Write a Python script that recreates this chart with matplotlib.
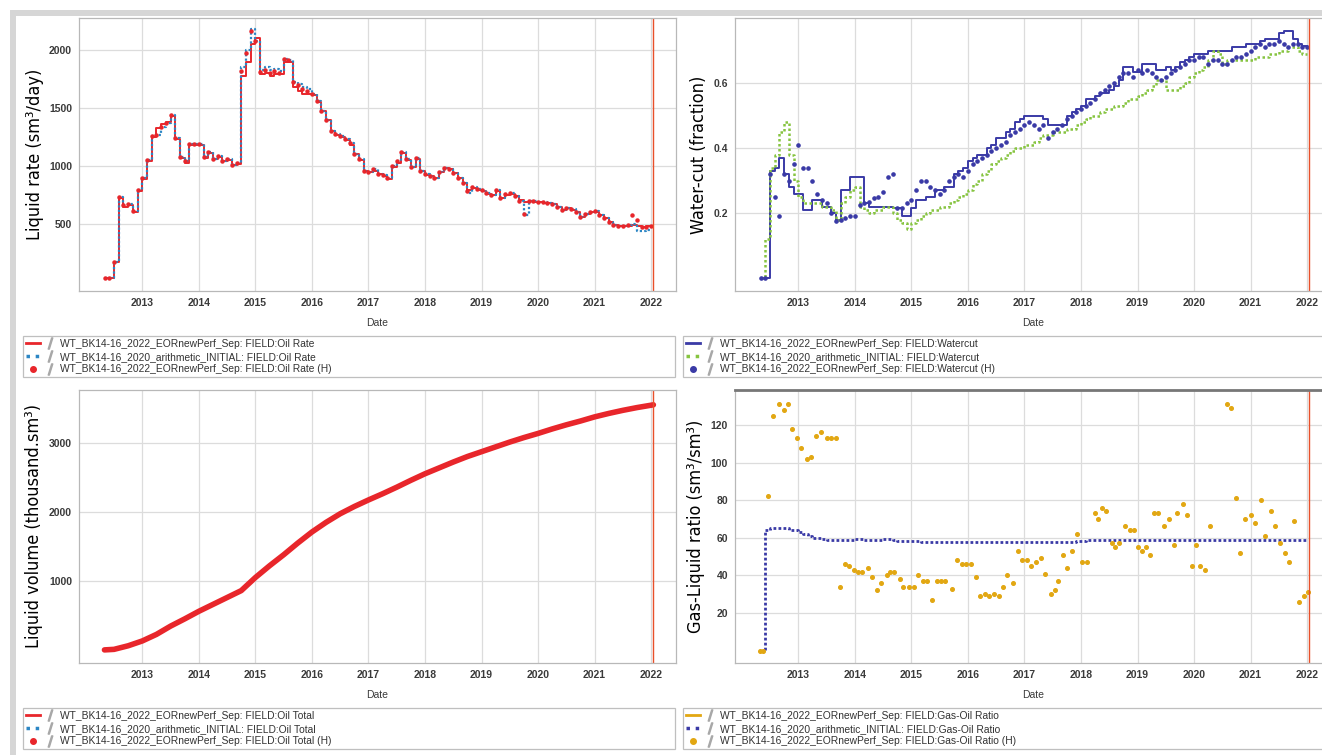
import numpy as np
import matplotlib
matplotlib.use("Agg")
import matplotlib.pyplot as plt
from matplotlib.lines import Line2D
from matplotlib.legend_handler import HandlerTuple
from matplotlib.patches import Rectangle

# ---- data (monthly, May 2012 .. Jan 2022) ----
START = 2012 + 4 / 12.0

oil_rate_hist = [
    35, 35, 170, 730, 660, 670, 610, 790,
    900, 1050, 1260, 1270, 1340, 1370, 1440, 1240, 1080, 1040, 1190, 1190,
    1190, 1080, 1120, 1060, 1090, 1040, 1060, 1010, 1030, 1820, 1970, 2160,
    2080, 1810, 1830, 1800, 1820, 1800, 1920, 1910, 1720, 1700, 1660, 1650,
    1620, 1560, 1470, 1400, 1300, 1280, 1260, 1230, 1200, 1100, 1060, 960,
    950, 970, 930, 920, 900, 1000, 1040, 1120, 1060, 990, 1070, 960,
    930, 910, 900, 950, 980, 970, 940, 900, 850, 780, 820, 800,
    790, 770, 750, 790, 720, 760, 770, 740, 700, 590, 700, 700,
    690, 690, 680, 670, 650, 620, 640, 630, 600, 560, 590, 600,
    610, 580, 550, 520, 490, 480, 480, 490, 580, 530, 470, 470,
    480,
]
oil_rate_sim22 = [
    35, 35, 170, 720, 650, 660, 600, 780,
    890, 1040, 1250, 1330, 1360, 1380, 1430, 1230, 1070, 1030, 1180, 1180,
    1180, 1070, 1110, 1060, 1080, 1040, 1050, 1010, 1020, 1780, 1900, 2050,
    2100, 1790, 1800, 1780, 1790, 1790, 1900, 1900, 1680, 1650, 1620, 1620,
    1610, 1550, 1470, 1400, 1300, 1270, 1250, 1220, 1180, 1100, 1050, 960,
    950, 960, 930, 910, 890, 990, 1030, 1110, 1050, 990, 1060, 960,
    920, 910, 900, 950, 980, 970, 940, 900, 850, 790, 810, 790,
    780, 760, 750, 780, 720, 750, 760, 740, 710, 690, 700, 690,
    690, 680, 680, 670, 650, 620, 640, 620, 600, 560, 590, 600,
    600, 580, 550, 520, 490, 480, 480, 480, 490, 480, 470, 480,
    480,
]
oil_rate_sim20 = [
    35, 35, 170, 730, 660, 670, 610, 790,
    900, 1050, 1260, 1270, 1340, 1370, 1440, 1240, 1080, 1040, 1190, 1190,
    1190, 1080, 1120, 1060, 1090, 1040, 1060, 1010, 1030, 1850, 2000, 2180,
    2080, 1830, 1850, 1830, 1840, 1820, 1920, 1910, 1720, 1710, 1680, 1660,
    1620, 1560, 1470, 1400, 1300, 1280, 1260, 1230, 1200, 1100, 1060, 960,
    950, 970, 930, 920, 900, 1000, 1040, 1120, 1060, 990, 1070, 960,
    930, 910, 900, 950, 980, 970, 940, 900, 850, 770, 820, 800,
    790, 770, 750, 790, 720, 760, 770, 740, 700, 580, 700, 700,
    690, 690, 680, 670, 650, 620, 640, 630, 600, 560, 590, 600,
    610, 580, 550, 520, 490, 480, 480, 490, 500, 440, 440, 450,
    460,
]

wcut_sim22 = [
    0.0, 0.0, 0.33, 0.34, 0.37, 0.32, 0.28, 0.26,
    0.26, 0.21, 0.21, 0.24, 0.24, 0.22, 0.22, 0.20, 0.18, 0.27, 0.27, 0.31,
    0.31, 0.31, 0.23, 0.22, 0.22, 0.22, 0.22, 0.22, 0.215, 0.215, 0.19, 0.19,
    0.215, 0.24, 0.24, 0.25, 0.25, 0.27, 0.27, 0.28, 0.28, 0.32, 0.33, 0.34,
    0.36, 0.37, 0.38, 0.38, 0.40, 0.41, 0.43, 0.43, 0.45, 0.46, 0.48, 0.49,
    0.50, 0.50, 0.50, 0.50, 0.49, 0.47, 0.47, 0.47, 0.47, 0.50, 0.51, 0.52,
    0.53, 0.55, 0.55, 0.56, 0.57, 0.57, 0.58, 0.59, 0.61, 0.65, 0.65, 0.635,
    0.635, 0.66, 0.66, 0.66, 0.64, 0.64, 0.65, 0.64, 0.65, 0.665, 0.67, 0.68,
    0.69, 0.69, 0.69, 0.70, 0.70, 0.70, 0.70, 0.70, 0.71, 0.71, 0.71, 0.72,
    0.72, 0.72, 0.73, 0.735, 0.735, 0.735, 0.755, 0.76, 0.76, 0.735, 0.72, 0.715,
    0.715,
]
wcut_sim20 = [
    0.0, 0.12, 0.34, 0.38, 0.45, 0.48, 0.38, 0.30,
    0.25, 0.23, 0.23, 0.23, 0.23, 0.22, 0.22, 0.21, 0.18, 0.23, 0.25, 0.27,
    0.28, 0.22, 0.21, 0.20, 0.21, 0.21, 0.22, 0.22, 0.20, 0.18, 0.17, 0.15,
    0.17, 0.18, 0.19, 0.20, 0.21, 0.21, 0.22, 0.22, 0.23, 0.24, 0.25, 0.26,
    0.27, 0.29, 0.30, 0.32, 0.33, 0.35, 0.36, 0.37, 0.38, 0.39, 0.40, 0.40,
    0.41, 0.41, 0.42, 0.43, 0.44, 0.44, 0.45, 0.45, 0.45, 0.46, 0.46, 0.47,
    0.48, 0.49, 0.50, 0.50, 0.51, 0.52, 0.52, 0.53, 0.53, 0.54, 0.55, 0.55,
    0.56, 0.57, 0.58, 0.59, 0.61, 0.61, 0.58, 0.58, 0.58, 0.59, 0.60, 0.62,
    0.63, 0.64, 0.65, 0.67, 0.70, 0.69, 0.66, 0.67, 0.67, 0.67, 0.67, 0.67,
    0.67, 0.68, 0.68, 0.68, 0.69, 0.69, 0.70, 0.70, 0.71, 0.71, 0.70, 0.69,
    0.69,
]
wcut_hist = [
    0.0, 0.0, 0.32, 0.25, 0.19, 0.32, 0.30, 0.35,
    0.41, 0.34, 0.34, 0.30, 0.26, 0.24, 0.23, 0.20, 0.175, 0.18, 0.185, 0.19,
    0.19, 0.225, 0.23, 0.235, 0.245, 0.25, 0.265, 0.31, 0.32, 0.215, 0.215, 0.23,
    0.24, 0.27, 0.30, 0.30, 0.28, 0.27, 0.26, 0.27, 0.30, 0.31, 0.32, 0.31,
    0.33, 0.35, 0.36, 0.37, 0.38, 0.39, 0.40, 0.41, 0.42, 0.44, 0.45, 0.46,
    0.47, 0.48, 0.47, 0.46, 0.47, 0.43, 0.45, 0.46, 0.47, 0.49, 0.50, 0.51,
    0.52, 0.53, 0.54, 0.55, 0.57, 0.58, 0.59, 0.60, 0.62, 0.63, 0.63, 0.62,
    0.64, 0.63, 0.64, 0.63, 0.62, 0.61, 0.62, 0.63, 0.64, 0.65, 0.66, 0.67,
    0.67, 0.68, 0.68, 0.66, 0.67, 0.67, 0.66, 0.66, 0.67, 0.68, 0.68, 0.69,
    0.70, 0.71, 0.72, 0.71, 0.72, 0.72, 0.73, 0.72, 0.71, 0.72, 0.72, 0.71,
    0.71,
]

gor_sim20 = [
    0, 64, 65, 65, 65, 65, 64, 64,
    63, 62, 61, 60, 60, 59.5, 59, 59, 59, 59, 59, 59,
    59.5, 59.5, 59, 59, 59, 59, 59.5, 59.5, 59, 58.5, 58.5, 58.5,
    58.5, 58.5, 58, 58, 58, 58, 58, 58, 58, 58, 58, 58,
    58, 58, 58, 58, 58, 58, 58, 58, 58, 58, 58, 58,
    58, 58, 58, 58, 58, 58, 58, 58, 58, 58, 58, 58.5,
    58.5, 59, 59, 59, 59, 59, 59, 59, 59, 59, 59, 59,
    59, 59, 59, 59, 59, 59, 59, 59, 59, 59, 59, 59,
    59, 59, 59, 59, 59, 59, 59, 59, 59, 59, 59, 59,
    59, 59, 59, 59, 59, 59, 59, 59, 59, 59, 59, 59,
    59,
]
gor_hist_t = [
    2012.33, 2012.38, 2012.46, 2012.56, 2012.65, 2012.74, 2012.81, 2012.88, 2012.98,
    2013.05, 2013.15, 2013.22, 2013.31, 2013.40, 2013.50, 2013.58, 2013.66, 2013.73,
    2013.82, 2013.90, 2013.98, 2014.06, 2014.13, 2014.23, 2014.30, 2014.39, 2014.47,
    2014.56, 2014.63, 2014.70, 2014.79, 2014.86, 2014.96, 2015.05, 2015.12, 2015.20,
    2015.28, 2015.37, 2015.46, 2015.53, 2015.60, 2015.72, 2015.80, 2015.90, 2015.97,
    2016.05, 2016.14, 2016.22, 2016.30, 2016.38, 2016.46, 2016.55, 2016.62, 2016.70,
    2016.80, 2016.88, 2016.96, 2017.05, 2017.12, 2017.20, 2017.30, 2017.37, 2017.47,
    2017.54, 2017.60, 2017.68, 2017.76, 2017.84, 2017.93, 2018.02, 2018.10, 2018.24,
    2018.30, 2018.37, 2018.45, 2018.54, 2018.60, 2018.67, 2018.77, 2018.86, 2018.93,
    2019.00, 2019.08, 2019.15, 2019.22, 2019.30, 2019.37, 2019.46, 2019.55, 2019.64,
    2019.70, 2019.80, 2019.88, 2019.96, 2020.03, 2020.10, 2020.20, 2020.28, 2020.58,
    2020.66, 2020.74, 2020.82, 2020.90, 2021.00, 2021.08, 2021.18, 2021.26, 2021.36,
    2021.44, 2021.52, 2021.60, 2021.68, 2021.76, 2021.86, 2021.94, 2022.02,
]
gor_hist_v = [
    0, 0, 82, 125, 131, 128, 131, 118, 113,
    108, 102, 103, 114, 116, 113, 113, 113, 34,
    46, 45, 43, 42, 42, 44, 39, 32, 36,
    40, 42, 42, 38, 34, 34, 34, 40, 37,
    37, 27, 37, 37, 37, 33, 48, 46, 46,
    46, 39, 29, 30, 29, 30, 29, 34, 40,
    36, 53, 48, 48, 45, 47, 49, 41, 30,
    32, 37, 51, 44, 53, 62, 47, 47, 73,
    70, 76, 74, 57, 55, 57, 66, 64, 64,
    55, 53, 55, 51, 73, 73, 66, 70, 56,
    73, 78, 72, 45, 56, 45, 43, 66, 131,
    129, 81, 52, 70, 72, 68, 80, 61, 74,
    66, 57, 52, 47, 69, 26, 29, 31,
]

# cumulative oil (thousand sm3), quarterly
cum_t = [
    2012.33, 2012.5, 2012.75, 2013.0, 2013.25, 2013.5, 2013.75, 2014.0, 2014.25,
    2014.5, 2014.75, 2015.0, 2015.25, 2015.5, 2015.75, 2016.0, 2016.25, 2016.5,
    2016.75, 2017.0, 2017.25, 2017.5, 2017.75, 2018.0, 2018.25, 2018.5, 2018.75,
    2019.0, 2019.25, 2019.5, 2019.75, 2020.0, 2020.25, 2020.5, 2020.75, 2021.0,
    2021.25, 2021.5, 2021.75, 2022.04,
]
cum_v = [
    0, 8, 60, 130, 225, 345, 450, 560, 660,
    760, 860, 1050, 1220, 1380, 1550, 1710, 1850, 1975,
    2080, 2175, 2265, 2360, 2460, 2555, 2640, 2725, 2805,
    2875, 2945, 3015, 3080, 3140, 3205, 3265, 3320, 3380,
    3430, 3475, 3515, 3555,
]

years = list(range(2013, 2023))

months = START + np.arange(len(oil_rate_hist)) / 12.0

RED = "#e8262b"
TEAL = "#2c86c4"
NAVY = "#3a3aa6"
GREEN = "#86c440"
GOLD = "#e2a712"
VLINE = "#e8502a"

plt.rcParams["font.family"] = ["Liberation Sans", "DejaVu Sans"]

fig = plt.figure(figsize=(13.22, 7.55), dpi=100)
fig.patch.set_facecolor("white")

W, H = 1322.0, 755.0
aw, ah = 597 / W, 273 / H
pos = {
    "tl": [79 / W, 1 - 291 / H, aw, ah],
    "tr": [735 / W, 1 - 291 / H, aw, ah],
    "bl": [79 / W, 1 - 663 / H, aw, ah],
    "br": [735 / W, 1 - 663 / H, aw, ah],
}


def style_axes(ax, yticks, ylim, ylabel):
    ax.set_xlim(2011.88, 2022.44)
    ax.set_ylim(*ylim)
    ax.set_xticks(years)
    ax.set_xticklabels([str(y) for y in years])
    ax.set_yticks(yticks)
    ax.grid(True, color="#dcdcdc", lw=0.9)
    ax.set_axisbelow(True)
    ax.tick_params(length=0, labelsize=7.5, colors="#3a3a3a", pad=5)
    for lab in ax.get_xticklabels() + ax.get_yticklabels():
        lab.set_fontweight("bold")
    for s in ax.spines.values():
        s.set_color("#b8b8b8")
        s.set_linewidth(0.9)
    ax.set_xlabel("Date", fontsize=7.5, color="#3a3a3a", labelpad=7)
    ax.set_ylabel(ylabel, fontsize=13, color="black",
                  family=["Liberation Sans Narrow", "DejaVu Sans"],
                  fontstretch="condensed", labelpad=4)
    # marker for the end of the history period
    ax.axvline(2022.04, color=VLINE, lw=1.0)


def add_legend(handles, labels, x0, y_top):
    # every entry gets the little grey pen icon after its line sample
    slash = Line2D([], [], marker="$/$", ls="none", color="#a8a8a8", ms=8)
    hs = [(h, slash) for h in handles]
    leg = fig.legend(hs, labels, loc="upper left",
                     bbox_to_anchor=(x0 / W, 1 - (y_top + 47) / H, 652 / W, 47 / H),
                     mode="expand", borderaxespad=0, fontsize=7.4,
                     handler_map={tuple: HandlerTuple(ndivide=None, pad=0.2)},
                     handlelength=3.0, handletextpad=0.3, labelspacing=0.25,
                     borderpad=0.3, fancybox=False, frameon=True)
    leg.get_frame().set_edgecolor("#b0b0b0")
    leg.get_frame().set_linewidth(0.9)
    for t in leg.get_texts():
        t.set_color("#333333")
    return leg


# ---- top left: oil rate ----
ax = fig.add_axes(pos["tl"])
ax.step(months, oil_rate_sim22, where="post", color=RED, lw=1.4)
ax.step(months, oil_rate_sim20, where="post", color=TEAL, lw=1.6, ls=(0, (1, 1)))
ax.plot(months, oil_rate_hist, "o", color=RED, ms=2.2)
style_axes(ax, [500, 1000, 1500, 2000], (-78, 2276), "Liquid rate (sm³/day)")

add_legend([Line2D([], [], color=RED, lw=2),
            Line2D([], [], color=TEAL, lw=2.5, ls=":"),
            Line2D([], [], color=RED, marker="o", ls="none", ms=4)],
           ["WT_BK14-16_2022_EORnewPerf_Sep: FIELD:Oil Rate",
            "WT_BK14-16_2020_arithmetic_INITIAL: FIELD:Oil Rate",
            "WT_BK14-16_2022_EORnewPerf_Sep: FIELD:Oil Rate (H)"], 23, 336)

# ---- top right: water cut ----
ax = fig.add_axes(pos["tr"])
ax.step(months, wcut_sim22, where="post", color=NAVY, lw=1.4)
ax.step(months, wcut_sim20, where="post", color=GREEN, lw=1.8, ls=(0, (1, 1)))
ax.plot(months, wcut_hist, "o", color=NAVY, ms=2.3)
style_axes(ax, [0.2, 0.4, 0.6], (-0.04, 0.8), "Water-cut (fraction)")

add_legend([Line2D([], [], color=NAVY, lw=2),
            Line2D([], [], color=GREEN, lw=2.5, ls=":"),
            Line2D([], [], color=NAVY, marker="o", ls="none", ms=4)],
           ["WT_BK14-16_2022_EORnewPerf_Sep: FIELD:Watercut",
            "WT_BK14-16_2020_arithmetic_INITIAL: FIELD:Watercut",
            "WT_BK14-16_2022_EORnewPerf_Sep: FIELD:Watercut (H)"], 683, 336)

# ---- bottom left: cumulative ----
ax = fig.add_axes(pos["bl"])
ax.plot(cum_t, cum_v, color=RED, lw=4.0, solid_capstyle="round")
style_axes(ax, [1000, 2000, 3000], (-190, 3770), "Liquid volume (thousand.sm³)")

add_legend([Line2D([], [], color=RED, lw=2),
            Line2D([], [], color=TEAL, lw=2.5, ls=":"),
            Line2D([], [], color=RED, marker="o", ls="none", ms=4)],
           ["WT_BK14-16_2022_EORnewPerf_Sep: FIELD:Oil Total",
            "WT_BK14-16_2020_arithmetic_INITIAL: FIELD:Oil Total",
            "WT_BK14-16_2022_EORnewPerf_Sep: FIELD:Oil Total (H)"], 23, 708)

# ---- bottom right: gas-oil ratio ----
ax = fig.add_axes(pos["br"])
ax.step(months, gor_sim20, where="post", color=NAVY, lw=2.0, ls=(0, (1, 0.8)))
ax.plot(gor_hist_t, gor_hist_v, "o", color=GOLD, ms=2.6)
style_axes(ax, [20, 40, 60, 80, 100, 120], (-6.6, 138.6), "Gas-Liquid ratio (sm³/sm³)")
ax.spines["top"].set_color("#777777")
ax.spines["top"].set_linewidth(2.0)

add_legend([Line2D([], [], color=GOLD, lw=2),
            Line2D([], [], color=NAVY, lw=2.5, ls=":"),
            Line2D([], [], color=GOLD, marker="o", ls="none", ms=4)],
           ["WT_BK14-16_2022_EORnewPerf_Sep: FIELD:Gas-Oil Ratio",
            "WT_BK14-16_2020_arithmetic_INITIAL: FIELD:Gas-Oil Ratio",
            "WT_BK14-16_2022_EORnewPerf_Sep: FIELD:Gas-Oil Ratio (H)"], 683, 708)

# light grey frame around the whole figure
fig.patches.append(Rectangle((12.5 / W, -0.2), 1.2, 1.2 - 12.5 / H,
                             transform=fig.transFigure, fill=False,
                             ec="#d6d6d6", lw=4.3, zorder=0))

fig.savefig("out.png", dpi=100)
